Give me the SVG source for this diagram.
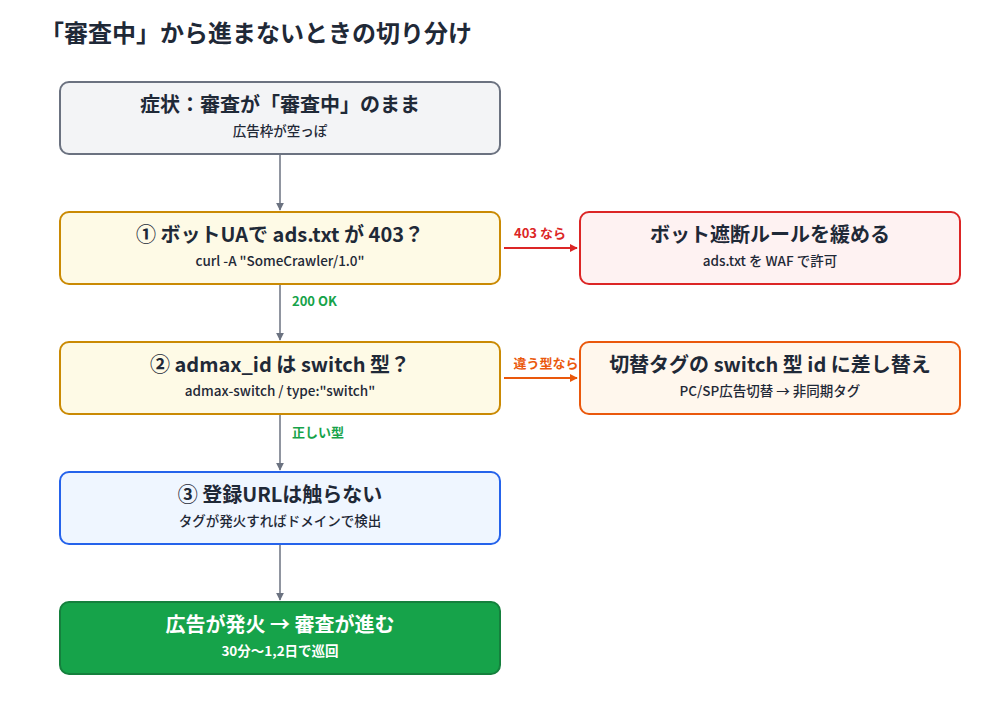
<svg xmlns="http://www.w3.org/2000/svg" width="1000" height="720" viewBox="0 0 1000 720">
<style>
text{font-family:"Noto Sans CJK JP","Noto Sans",sans-serif}
.t{font-size:20px;font-weight:700;fill:#1f2937;text-anchor:middle}
.s{font-size:13.5px;font-weight:500;fill:#1f2937;text-anchor:middle}
.lbl{font-size:13px;font-weight:700}
.box{stroke-width:2}
</style>
<defs>
<marker id="ag" viewBox="0 0 10 10" refX="9" refY="5" markerWidth="8" markerHeight="8" orient="auto" markerUnits="userSpaceOnUse"><path d="M0,0L10,5L0,10z" fill="#6b7280"/></marker>
<marker id="ar" viewBox="0 0 10 10" refX="9" refY="5" markerWidth="8" markerHeight="8" orient="auto" markerUnits="userSpaceOnUse"><path d="M0,0L10,5L0,10z" fill="#dc2626"/></marker>
<marker id="ao" viewBox="0 0 10 10" refX="9" refY="5" markerWidth="8" markerHeight="8" orient="auto" markerUnits="userSpaceOnUse"><path d="M0,0L10,5L0,10z" fill="#ea580c"/></marker>
</defs>
<rect width="1000" height="720" fill="#ffffff"/>
<text x="40" y="42" style="font-size:24px;font-weight:700;fill:#1f2937">「審査中」から進まないときの切り分け</text>
<g id="connectors">
<line x1="280" y1="155" x2="280" y2="210" stroke="#6b7280" stroke-width="1.5" marker-end="url(#ag)"/>
<line x1="280" y1="285" x2="280" y2="340" stroke="#6b7280" stroke-width="1.5" marker-end="url(#ag)"/>
<line x1="280" y1="415" x2="280" y2="470" stroke="#6b7280" stroke-width="1.5" marker-end="url(#ag)"/>
<line x1="280" y1="545" x2="280" y2="600" stroke="#6b7280" stroke-width="1.5" marker-end="url(#ag)"/>
<text x="292" y="306" class="lbl" fill="#16a34a">200 OK</text>
<text x="292" y="437" class="lbl" fill="#16a34a">正しい型</text>
<line x1="504" y1="248" x2="577" y2="248" stroke="#dc2626" stroke-width="2" marker-end="url(#ar)"/>
<text x="540" y="238" class="lbl" fill="#dc2626" text-anchor="middle">403 なら</text>
<line x1="504" y1="378" x2="577" y2="378" stroke="#ea580c" stroke-width="2" marker-end="url(#ao)"/>
<text x="546" y="368" class="lbl" fill="#ea580c" text-anchor="middle">違う型なら</text>
</g>
<g id="n0">
<rect x="60" y="82" width="440" height="72" rx="9" class="box" fill="#f3f4f6" stroke="#6b7280"/>
<text x="280" y="112" class="t">症状：審査が「審査中」のまま</text>
<text x="280" y="136" class="s">広告枠が空っぽ</text>
</g>
<g id="n1">
<rect x="60" y="212" width="440" height="72" rx="9" class="box" fill="#fefae6" stroke="#ca8a04"/>
<text x="280" y="242" class="t">① ボットUAで ads.txt が 403？</text>
<text x="280" y="266" class="s">curl -A "SomeCrawler/1.0"</text>
</g>
<g id="n2">
<rect x="580" y="212" width="380" height="72" rx="9" class="box" fill="#fef2f2" stroke="#dc2626"/>
<text x="770" y="242" class="t">ボット遮断ルールを緩める</text>
<text x="770" y="266" class="s">ads.txt を WAF で許可</text>
</g>
<g id="n3">
<rect x="60" y="342" width="440" height="72" rx="9" class="box" fill="#fefae6" stroke="#ca8a04"/>
<text x="280" y="372" class="t">② admax_id は switch 型？</text>
<text x="280" y="396" class="s">admax-switch / type:"switch"</text>
</g>
<g id="n4">
<rect x="580" y="342" width="380" height="72" rx="9" class="box" fill="#fff7ed" stroke="#ea580c"/>
<text x="770" y="372" class="t">切替タグの switch 型 id に差し替え</text>
<text x="770" y="396" class="s">PC/SP広告切替 → 非同期タグ</text>
</g>
<g id="n5">
<rect x="60" y="472" width="440" height="72" rx="9" class="box" fill="#eff6ff" stroke="#2563eb"/>
<text x="280" y="502" class="t">③ 登録URLは触らない</text>
<text x="280" y="526" class="s">タグが発火すればドメインで検出</text>
</g>
<g id="n6">
<rect x="60" y="602" width="440" height="72" rx="9" class="box" fill="#16a34a" stroke="#15803d"/>
<text x="280" y="632" class="t" style="fill:#ffffff">広告が発火 → 審査が進む</text>
<text x="280" y="656" class="s" style="fill:#ffffff;font-weight:700">30分〜1,2日で巡回</text>
</g>
</svg>
